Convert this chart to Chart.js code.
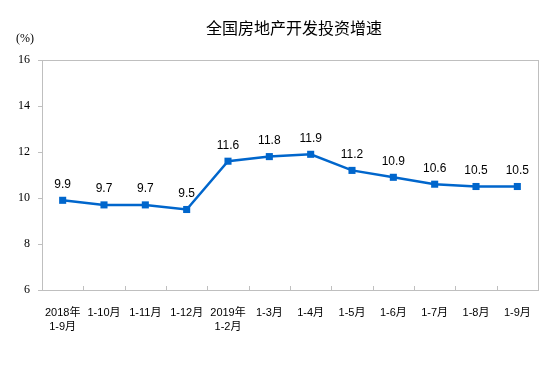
<!DOCTYPE html>
<html>
<head>
<meta charset="utf-8">
<script src="https://cdn.jsdelivr.net/npm/chart.js@4.4.1/dist/chart.umd.min.js"></script>
<style>
  body { margin: 0; background: #fff; }
</style>
</head>
<body>
<canvas id="investChart" width="558" height="371"></canvas>
<script>
// 全国房地产开发投资增速 (%)
const categories = [
    ['2018年', '1-9月'], '1-10月', '1-11月', '1-12月', ['2019年', '1-2月'],
    '1-3月', '1-4月', '1-5月', '1-6月', '1-7月', '1-8月', '1-9月'
];
const growth = [9.9, 9.7, 9.7, 9.5, 11.6, 11.8, 11.9, 11.2, 10.9, 10.6, 10.5, 10.5];
const yTicks = [6, 8, 10, 12, 14, 16];

const titleText = '全国房地产开发投资增速';
const unitText = '(%)';
const lineColor = '#0066cc';
const frameColor = '#bfbfbf';

// title, unit, plot frame, inner x ticks, value labels
const decorPlugin = {
    id: 'decor',
    afterDraw(chart) {
        const ctx = chart.ctx;
        const area = chart.chartArea;
        const xScale = chart.scales.x;
        ctx.save();

        ctx.fillStyle = '#000';
        ctx.textAlign = 'center';
        ctx.textBaseline = 'middle';
        ctx.font = '16px "Noto Sans CJK SC", sans-serif';
        ctx.fillText(titleText, 294, 28);

        ctx.font = '12px "Liberation Serif", serif';
        ctx.fillText(unitText, 25, 39);

        ctx.strokeStyle = frameColor;
        ctx.lineWidth = 1;
        ctx.strokeRect(area.left + 0.5, area.top + 0.5, area.right - area.left, area.bottom - area.top);

        // small tick marks between categories, pointing into the plot
        const step = (area.right - area.left) / categories.length;
        ctx.beginPath();
        for (let i = 1; i < categories.length; i++) {
            const x = Math.round(xScale.getPixelForValue(i) - step / 2) + 0.5;
            ctx.moveTo(x, area.bottom);
            ctx.lineTo(x, area.bottom - 4);
        }
        ctx.stroke();

        // value labels
        const meta = chart.getDatasetMeta(0);
        ctx.font = '12px "Liberation Sans", Arial, sans-serif';
        ctx.fillStyle = '#000';
        meta.data.forEach((pt, i) => {
            ctx.fillText(growth[i].toFixed(1), pt.x, pt.y - 16);
        });

        ctx.restore();
    }
};

const ctx = document.getElementById('investChart').getContext('2d');
new Chart(ctx, {
    type: 'line',
    data: {
        labels: categories,
        datasets: [{
            data: growth,
            borderColor: lineColor,
            backgroundColor: lineColor,
            borderWidth: 2.5,
            tension: 0,
            pointStyle: 'rect',
            pointRadius: 5,
            pointHoverRadius: 5,
            pointBorderWidth: 0
        }]
    },
    options: {
        responsive: false,
        animation: false,
        layout: {
            padding: { top: 60, right: 20, left: 0, bottom: 0 }
        },
        plugins: {
            legend: { display: false },
            tooltip: { enabled: false }
        },
        scales: {
            x: {
                offset: true,
                grid: { display: false },
                border: { display: true, color: frameColor },
                ticks: {
                    color: '#000',
                    padding: 8,
                    maxRotation: 0,
                    autoSkip: false,
                    font: { family: '"Liberation Sans", "Noto Sans CJK SC", sans-serif', size: 11, lineHeight: 1.3 }
                },
                afterFit(scale) { scale.height = 81; }
            },
            y: {
                min: 6,
                max: 16,
                afterBuildTicks(scale) {
                    scale.ticks = yTicks.map(v => ({ value: v }));
                },
                grid: {
                    drawOnChartArea: false,
                    drawTicks: true,
                    tickLength: 4,
                    color: frameColor
                },
                border: { display: true, color: frameColor },
                ticks: {
                    color: '#000',
                    padding: 8,
                    font: { family: '"Liberation Serif", serif', size: 12 }
                },
                afterFit(scale) { scale.width = 42; }
            }
        }
    },
    plugins: [decorPlugin]
});
</script>
</body>
</html>
